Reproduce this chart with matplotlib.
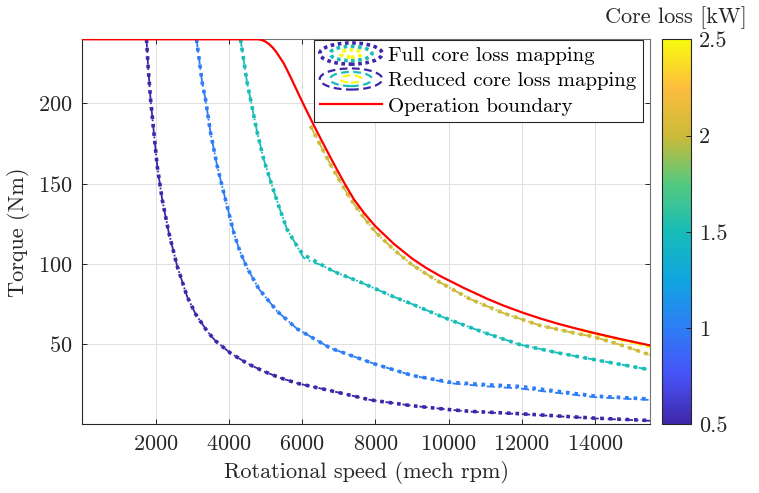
import numpy as np
import matplotlib
matplotlib.use('Agg')
import matplotlib.pyplot as plt
from matplotlib.colors import LinearSegmentedColormap, Normalize
from matplotlib.legend_handler import HandlerBase
from matplotlib.patches import Ellipse
from matplotlib.lines import Line2D
import matplotlib.cm as cm

plt.rcParams['font.family'] = 'serif'
plt.rcParams['font.serif'] = ['cmr10']
plt.rcParams['mathtext.fontset'] = 'cm'
plt.rcParams['axes.formatter.use_mathtext'] = True

# contour levels (kW)
levels = [0.5, 1.0, 1.5, 2.0, 2.5]

# 0.5 kW
rpm_05 = [1754, 1800, 1864, 1954, 2046, 2183, 2363, 2592, 2865, 3100, 3411, 3637, 4046, 4500,
          4956, 5400, 5865, 6775, 7866, 9000, 10049, 10595, 11960, 13000, 13966, 15500]
trq_05_full = [240, 222, 202.7, 182, 161, 140, 119.4, 98.5, 79.5, 68.5, 58, 52, 44.4, 38,
               33, 29, 25.6, 21, 15.2, 11.6, 9.1, 8.1, 6.6, 5.2, 3.9, 2.4]
trq_05_red = [240, 222, 202.7, 182, 161, 140, 119.4, 98.5, 79.5, 68.5, 58, 52, 44.4, 38,
              33, 29, 25.6, 21, 15.2, 11.6, 9.1, 7.9, 6.4, 5.0, 3.7, 2.2]

# 1.0 kW
rpm_10 = [3119, 3274, 3364, 3500, 3683, 3910, 4137, 4300, 4500, 4819, 5320, 5866, 6775, 8000, 9000,
          10049, 10960, 11960, 13000, 14006, 15500]
trq_10_full = [240, 213, 202.7, 182, 161, 140, 119.4, 108, 97.5, 84.5, 70.5, 59.5, 47.5, 37.5, 30.5,
               26.2, 24.8, 23.6, 20.5, 17.6, 15.8]
trq_10_red = [240, 213, 202.7, 182, 161, 140, 119.4, 108, 97.5, 84.5, 70.5, 59.5, 47.5, 37.5, 30.5,
              25.6, 23.8, 22.3, 19.5, 16.9, 15.2]

# 1.5 kW
rpm_15_full = [4320, 4500, 4592, 4775, 4955, 5184, 5365, 5593, 5866, 5956, 6100, 6300, 6775, 7000,
               7500, 7956, 8500, 9000, 9776, 10049, 11000, 11960, 13000, 14006, 15500]
trq_15_full = [240, 213, 202.7, 182, 165, 148.5, 136, 121.4, 111, 108, 105, 102.5, 96.4, 94,
               89.5, 85, 79.5, 75, 67.5, 65, 57, 49.6, 44.5, 40.2, 34]
rpm_15_red = [4320, 4500, 4592, 4775, 4955, 5184, 5365, 5593, 5866, 5960, 6048, 6229, 6500, 6775,
              7000, 7500, 7956, 8500, 9000, 9776, 10049, 11000, 11960, 13000, 14006, 15500]
trq_15_red = [240, 213, 202.7, 182, 165, 148.5, 136, 121.4, 111, 107, 103.7, 101.6, 99.5, 96.4,
              94, 89.5, 85, 79.5, 75, 67.5, 65, 57, 49.6, 44.5, 40.2, 34]

# 2.0 kW
rpm_20 = [6230, 6500, 6775, 7000, 7320, 7700, 8000, 8500, 9000, 9686, 10595, 11500, 12500,
          13500, 13950, 14700, 15500]
trq_20 = [186, 174, 162, 153, 140.5, 128.5, 120, 109, 99.5, 89.5, 78, 69.3, 61.6,
          56.6, 54.6, 49.5, 43.3]

# 2.5 kW
rpm_25 = [13600, 14000, 14500, 15000, 15500]
trq_25 = [59.0, 56.5, 53.8, 51.2, 48.4]

# operation boundary
rpm_bound = [0, 4787, 4900, 5000, 5100, 5200, 5300, 5400, 5500, 5600, 5700, 5800, 5910, 6100,
             6300, 6500, 6775, 7000, 7200, 7411, 7700, 8000, 8500, 9000, 9400, 9776, 10400,
             11050, 11500, 12000, 12500, 13000, 13500, 13959, 14700, 15500]
trq_bound = [240, 240, 239.6, 238.6, 237, 234.8, 232, 228.5, 225, 220.5, 215.8, 211, 205.6, 196.6,
             187.4, 178.4, 166.4, 156.8, 148.6, 140.4, 131.5, 123.5, 112.6, 103.4, 97.3, 92.4, 85.2,
             78.3, 74, 69.8, 66, 62.6, 59.6, 57.0, 53.1, 49.2]

parula = LinearSegmentedColormap.from_list('parula', [
    (0.0, (0.2422, 0.1504, 0.6603)),
    (0.125, (0.2781, 0.3253, 0.9672)),
    (0.25, (0.18, 0.49, 0.96)),
    (0.375, (0.06, 0.65, 0.88)),
    (0.5, (0.09, 0.74, 0.72)),
    (0.625, (0.33, 0.79, 0.50)),
    (0.75, (0.80, 0.73, 0.22)),
    (0.875, (0.99, 0.74, 0.24)),
    (1.0, (0.976, 0.983, 0.054)),
])
norm = Normalize(0.5, 2.5)
cols = [parula(norm(v)) for v in levels]

dot_ls = (0, (1.0, 1.35))
dash_ls = (0, (4.5, 2.0, 1.0, 2.0))


class ContourIcon(HandlerBase):
    def __init__(self, colors, ls, lw):
        super().__init__()
        self.colors = colors
        self.ls = ls
        self.lw = lw

    def create_artists(self, legend, orig_handle, xdescent, ydescent, width, height, fontsize, trans):
        cx = width / 2 - xdescent
        cy = height / 2 - ydescent
        out = []
        for i, c in enumerate(self.colors):
            s = 1 - i * 0.33
            e = Ellipse((cx, cy), width * s, height * 1.45 * s, fill=False, edgecolor=c,
                        lw=self.lw, linestyle=self.ls, transform=trans)
            out.append(e)
        return out


fig = plt.figure(figsize=(7.59, 4.93), dpi=100)
ax = fig.add_axes([0.1084, 0.1393, 0.7480, 0.7810])
cax = fig.add_axes([0.8718, 0.1393, 0.0382, 0.7810])

full_curves = [(rpm_05, trq_05_full), (rpm_10, trq_10_full), (rpm_15_full, trq_15_full),
               (rpm_20, trq_20), (rpm_25, trq_25)]
red_curves = [(rpm_05, trq_05_red), (rpm_10, trq_10_red), (rpm_15_red, trq_15_red),
              (rpm_20, trq_20), (rpm_25, trq_25)]

for (x, y), c in zip(full_curves, cols):
    ax.plot(x, y, color=c, lw=2.6, linestyle=dot_ls, dash_capstyle='butt', zorder=3)
for (x, y), c in zip(red_curves, cols):
    ax.plot(x, y, color=c, lw=1.3, linestyle=dash_ls, dash_capstyle='butt', zorder=3)
ax.plot(rpm_bound, trq_bound, color='red', lw=1.6, zorder=4)

ax.set_xlim(0, 15500)
ax.set_ylim(0, 240)
ax.set_xticks(range(2000, 15000, 2000))
ax.set_yticks([50, 100, 150, 200])
ax.tick_params(direction='in', top=True, right=True, length=3.5, width=0.7,
               labelsize=16, colors='0.15', pad=7)
ax.grid(True, color='0.87', lw=0.7)
ax.set_axisbelow(True)
for s in ['left', 'bottom']:
    ax.spines[s].set_color('0.15')
for s in ['top', 'right']:
    ax.spines[s].set_color('0.45')
for s in ax.spines.values():
    s.set_linewidth(0.8)
ax.set_xlabel('Rotational speed (mech rpm)', fontsize=16, color='0.15', labelpad=5)
ax.set_ylabel('Torque (Nm)', fontsize=16, color='0.15', labelpad=6)

h1 = Line2D([], [])
h2 = Line2D([], [])
h3 = Line2D([], [], color='red', lw=1.6)
icon_cols = [cols[0], cols[2], cols[4]]
leg = fig.legend([h1, h2, h3], ['Full core loss mapping', 'Reduced core loss mapping', 'Operation boundary'],
                 loc='upper right', bbox_to_anchor=(643 / 759, 1 - 40 / 493), borderaxespad=0,
                 fontsize=15, handlelength=3.0, handletextpad=0.3, borderpad=0.3,
                 labelspacing=0.33, fancybox=False, framealpha=1, edgecolor='0.15',
                 handler_map={h1: ContourIcon(icon_cols, (0, (1.0, 1.0)), 2.6),
                              h2: ContourIcon(icon_cols, (0, (3.5, 2.0)), 1.6)})
leg.get_frame().set_linewidth(0.8)

sm = cm.ScalarMappable(norm=norm, cmap=parula)
cb = fig.colorbar(sm, cax=cax)
cb.set_ticks([0.5, 1, 1.5, 2, 2.5])
cb.set_ticklabels(['0.5', '1', '1.5', '2', '2.5'])
cb.ax.tick_params(direction='in', length=3.5, width=0.7, labelsize=16, colors='0.15', pad=6)
cb.outline.set_edgecolor('0.15')
cb.outline.set_linewidth(0.8)
cax.set_title('Core loss [kW]', fontsize=16, color='0.15', pad=12)

fig.savefig('out.png', dpi=100)
